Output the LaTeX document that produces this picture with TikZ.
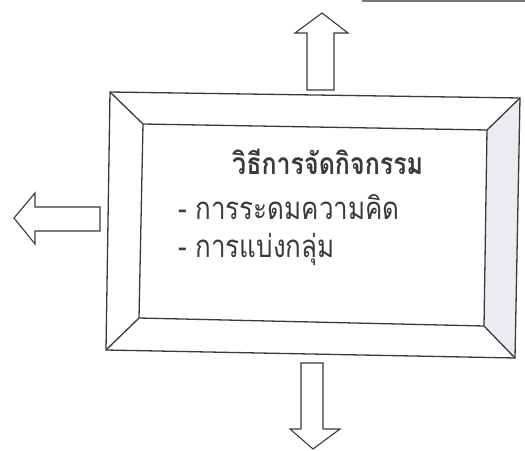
\documentclass[tikz,border=0pt]{standalone}
\usepackage{fontspec}
\newfontfamily\thaifont[Script=Thai]{Loma}
\definecolor{lav}{HTML}{EEEAF2}
\definecolor{ink}{HTML}{3A3A3A}
\begin{document}
\begin{tikzpicture}[x=1pt,y=-1pt,
  edge/.style={draw=ink,line width=1.3pt,line join=miter},
  bigarrow/.style={draw=ink,line width=1.1pt,fill=white,line join=miter},
  title/.style={font=\thaifont\bfseries\fontsize{25}{30}\selectfont,text=ink,inner sep=0pt,yscale=1.2},
  item/.style={font=\thaifont\fontsize{26}{30}\selectfont,text=ink,inner sep=0pt,yscale=1.2}]
\useasboundingbox (0,0) rectangle (525,450);
% scan remnant at top right
\draw[draw=ink!70,line width=2pt] (362,1) -- (525,1);
% outer and inner corners
\coordinate (o1) at (110,92);
\coordinate (o2) at (520,98);
\coordinate (o3) at (515,358);
\coordinate (o4) at (106,350);
\coordinate (i1) at (143,124);
\coordinate (i2) at (487,130);
\coordinate (i3) at (484,326);
\coordinate (i4) at (139,318);
% right bevel tinted
\fill[lav] (o2) -- (o3) -- (i3) -- (i2) -- cycle;
\draw[edge] (o1) -- (o2) -- (o3) -- (o4) -- cycle;
\draw[edge] (i1) -- (i2) -- (i3) -- (i4) -- cycle;
\draw[edge] (o1) -- (i1);
\draw[edge] (o2) -- (i2);
\draw[edge] (o3) -- (i3);
\draw[edge] (o4) -- (i4);
% top arrow
\draw[bigarrow] (307,90) -- (307,33) -- (295,33) -- (322,13) -- (348,33) -- (334,33) -- (334,90) -- cycle;
% left arrow
\draw[bigarrow] (100,207) -- (35,207) -- (35,193) -- (14,218) -- (35,244) -- (35,231) -- (100,231) -- cycle;
% bottom arrow
\draw[bigarrow] (301,363) -- (301,429) -- (290,429) -- (313,449) -- (340,429) -- (323,429) -- (323,363) -- cycle;
% texts
\node[title,anchor=base west] (t) at (232,174) {วิธีการจัดกิจกรรม};
\node[item,anchor=base west] (a) at (178,219) {- การระดมความคิด};
\node[item,anchor=base west] (b) at (178,257) {- การแบ่งกลุ่ม};
\end{tikzpicture}
\end{document}
